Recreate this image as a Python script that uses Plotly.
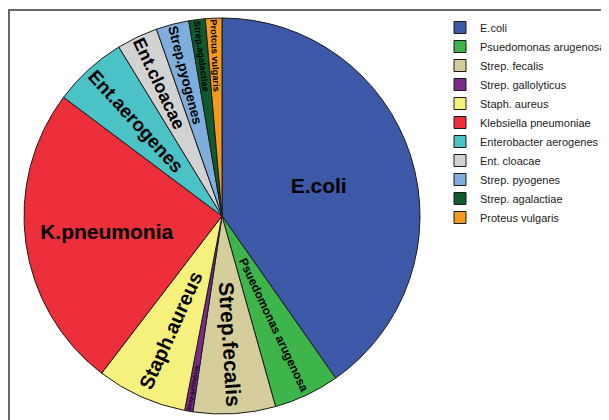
import plotly.graph_objects as go

# ---- data ----
legend_labels = ["E.coli", "Psuedomonas arugenosa", "Strep. fecalis", "Strep. gallolyticus",
                 "Staph. aureus", "Klebsiella pneumoniae", "Enterobacter aerogenes",
                 "Ent. cloacae", "Strep. pyogenes", "Strep. agalactiae", "Proteus vulgaris"]
slice_text = ["E.coli", "Psuedomonas arugenosa", "Strep.fecalis", "Strep.gallolyticus",
              "Staph.aureus", "K.pneumonia", "Ent.aerogenes", "Ent.cloacae",
              "Strep.pyogenes", "Strep.agalactiae", "Protcus vulgaris"]
counts = [60, 8, 10, 1, 11, 37, 9, 5, 4, 2, 2]
colors = ["#3E58A8", "#3DB54A", "#D5CE9C", "#7D2B8B", "#F6F07C", "#EC2F3A",
          "#4BC3C6", "#D2D2D2", "#7FAEDD", "#0F5B2C", "#F39A22"]
text_sizes = [21, 12, 21, 9, 20, 21, 19, 19, 15, 11, 11]
horizontal_labels = ["E.coli", "K.pneumonia"]

radial_text = ["" if t in horizontal_labels else t for t in slice_text]
horiz_text = [t if t in horizontal_labels else "" for t in slice_text]

# page has an 8px body margin, so the figure covers page x 8..609, y 8..420
W, H = 601, 412
cx, cy, r = 214, 208, 198   # pie centre / radius in figure pixels
domain = dict(x=[(cx - r) / W, (cx + r) / W], y=[1 - (cy + r) / H, 1 - (cy - r) / H])
font_family = "Liberation Sans, Arial, sans-serif"

fig = go.Figure()
fig.add_trace(go.Pie(
    labels=legend_labels, values=counts, sort=False, direction="clockwise", rotation=0,
    marker=dict(colors=colors, line=dict(color="#1a1a1a", width=1)),
    text=radial_text, textinfo="text", textposition="inside",
    insidetextorientation="radial",
    textfont=dict(family=font_family, size=text_sizes, color="black", weight="bold"),
    domain=domain, showlegend=True, hoverinfo="label+value+percent",
))
fig.add_trace(go.Pie(
    labels=legend_labels, values=counts, sort=False, direction="clockwise", rotation=0,
    marker=dict(colors=["rgba(0,0,0,0)"] * len(counts), line=dict(width=0)),
    text=horiz_text, textinfo="text", textposition="inside",
    insidetextorientation="horizontal",
    textfont=dict(family=font_family, size=text_sizes, color="black", weight="bold"),
    domain=domain, showlegend=False, hoverinfo="skip",
))

fig.update_layout(
    width=W, height=H,
    margin=dict(l=0, r=0, t=0, b=0, autoexpand=False),
    paper_bgcolor="white", plot_bgcolor="white",
    font=dict(family=font_family, color="#222"),
    legend=dict(x=432 / W, y=1 - 5 / H, xanchor="left", yanchor="top",
                font=dict(size=11, family=font_family, color="#222"),
                itemwidth=30, bgcolor="rgba(0,0,0,0)", traceorder="normal"),
    shapes=[
        dict(type="line", xref="paper", yref="paper", x0=0, x1=1.0, y0=1 - 2 / H, y1=1 - 2 / H,
             line=dict(color="#666", width=2)),
        dict(type="line", xref="paper", yref="paper", x0=1 / W, x1=1 / W, y0=1 - 2 / H, y1=0,
             line=dict(color="#666", width=2)),
    ],
)

fig.write_html("out.html")
